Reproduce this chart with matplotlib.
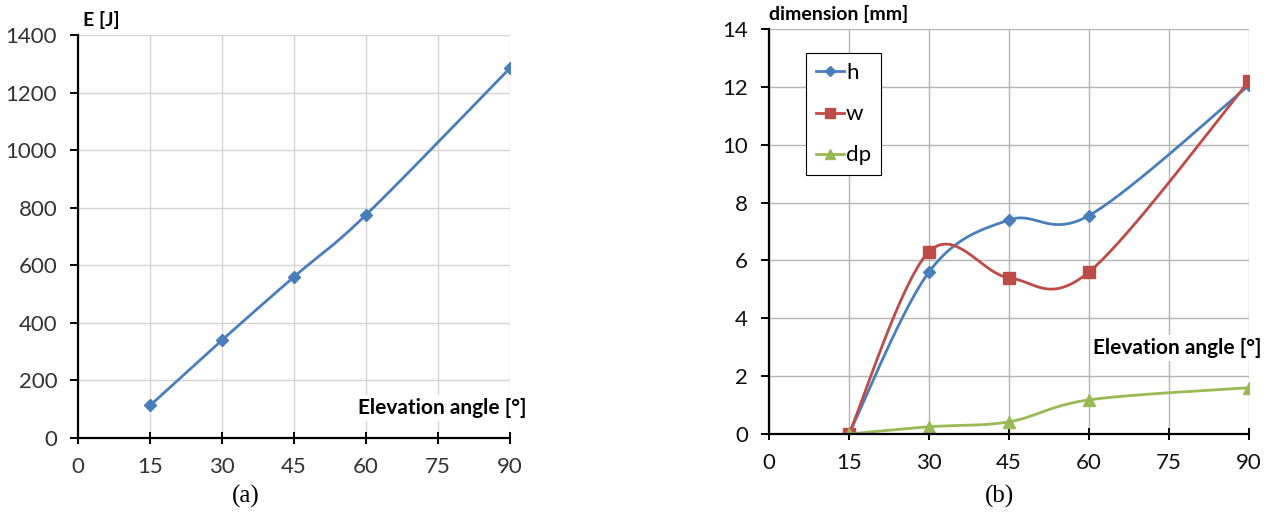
import numpy as np
import matplotlib.pyplot as plt
from matplotlib.lines import Line2D

# data
angle = [15, 30, 45, 60, 90]
energy = [113, 340, 560, 775, 1285]

h = [0.0, 5.6, 7.4, 7.55, 12.05]
w = [0.0, 6.3, 5.4, 5.6, 12.2]
dp = [0.0, 0.25, 0.42, 1.18, 1.6]

x_ticks = [0, 15, 30, 45, 60, 75, 90]

BLUE = '#4a7ebb'
RED = '#be4b48'
GREEN = '#98b954'
FONT = 'Lato'


def smooth(xs, ys, n=40):
    # Excel-style smoothed line: Catmull-Rom bezier through the points
    xs = np.asarray(xs, float)
    ys = np.asarray(ys, float)
    px = np.concatenate([[xs[0]], xs, [xs[-1]]])
    py = np.concatenate([[ys[0]], ys, [ys[-1]]])
    out_x, out_y = [], []
    t = np.linspace(0, 1, n)
    for i in range(1, len(px) - 2):
        p0 = np.array([px[i], py[i]])
        p3 = np.array([px[i + 1], py[i + 1]])
        c1 = p0 + (np.array([px[i + 1], py[i + 1]]) - np.array([px[i - 1], py[i - 1]])) / 6
        c2 = p3 - (np.array([px[i + 2], py[i + 2]]) - np.array([px[i], py[i]])) / 6
        b = ((1 - t) ** 3)[:, None] * p0 + (3 * (1 - t) ** 2 * t)[:, None] * c1 \
            + (3 * (1 - t) * t ** 2)[:, None] * c2 + (t ** 3)[:, None] * p3
        out_x.extend(b[:, 0])
        out_y.extend(b[:, 1])
    return out_x, out_y


def style_axes(ax, ymax, ystep, grid_col, lab_col):
    ax.set_xlim(0, 90)
    ax.set_ylim(0, ymax)
    ax.set_xticks(x_ticks)
    ax.set_yticks(np.arange(0, ymax + ystep / 2, ystep))
    ax.grid(True, color=grid_col, linewidth=1)
    ax.set_axisbelow(True)
    for s in ['top', 'right']:
        ax.spines[s].set_visible(False)
    for s in ['left', 'bottom']:
        ax.spines[s].set_linewidth(1.6)
        ax.spines[s].set_color('black')
    ax.tick_params(axis='x', direction='inout', length=9, width=1.4, labelsize=16, pad=9)
    ax.tick_params(axis='y', direction='out', length=6, width=1.4, labelsize=16, pad=9)
    for lab in ax.get_xticklabels() + ax.get_yticklabels():
        lab.set_fontfamily(FONT)
        lab.set_color(lab_col)


fig = plt.figure(figsize=(12.75, 5.16), dpi=100)

# (a) energy
ax1 = fig.add_axes([0.0612, 0.1512, 0.3388, 0.781])
sx, sy = smooth(angle, energy)
ax1.plot(sx, sy, color=BLUE, linewidth=2)
ax1.plot(angle, energy, linestyle='none', marker='D', markersize=6.5, color=BLUE)
style_axes(ax1, 1400, 200, '#d4d4d4', '#333333')
ax1.text(0.012, 1.015, 'E [J]', transform=ax1.transAxes, fontsize=14, fontweight='bold',
         fontfamily=FONT, ha='left', va='bottom')
ax1.text(1.039, 0.074, 'Elevation angle [°]', transform=ax1.transAxes, fontsize=15,
         fontweight='bold', fontfamily=FONT, ha='right', va='center',
         bbox=dict(facecolor='white', edgecolor='none', pad=2))

# (b) dimensions
ax2 = fig.add_axes([0.6031, 0.1589, 0.3765, 0.785])
series = [(h, 'h', BLUE, 'D', 6), (w, 'w', RED, 's', 8), (dp, 'dp', GREEN, '^', 8)]
handles = []
for vals, name, col, mk, ms in series:
    sx, sy = smooth(angle, vals)
    ax2.plot(sx, sy, color=col, linewidth=2)
    ax2.plot(angle, vals, linestyle='none', marker=mk, markersize=ms, color=col)
    handles.append(Line2D([], [], color=col, linewidth=2, marker=mk, markersize=ms - 1))
style_axes(ax2, 14, 2, '#b4b4b4', '#111111')
ax2.text(0.0, 1.015, 'dimension [mm]', transform=ax2.transAxes, fontsize=14,
         fontweight='bold', fontfamily=FONT, ha='left', va='bottom')
ax2.text(1.027, 0.212, 'Elevation angle [°]', transform=ax2.transAxes, fontsize=15,
         fontweight='bold', fontfamily=FONT, ha='right', va='center',
         bbox=dict(facecolor='white', edgecolor='none', pad=2))
leg = ax2.legend(handles, ['h', 'w', 'dp'], loc='upper left', bbox_to_anchor=(0.077, 0.94),
                 fancybox=False, framealpha=1, edgecolor='black', handlelength=1.25,
                 handletextpad=0.1, labelspacing=0.95, borderpad=0.45, borderaxespad=0,
                 prop={'family': FONT, 'size': 16})
leg.get_frame().set_linewidth(0.8)

fig.text(0.193, 0.037, '(a)', fontsize=18, fontfamily='Liberation Serif', ha='center', va='center')
fig.text(0.784, 0.037, '(b)', fontsize=18, fontfamily='Liberation Serif', ha='center', va='center')

fig.savefig('out.png', dpi=100)
